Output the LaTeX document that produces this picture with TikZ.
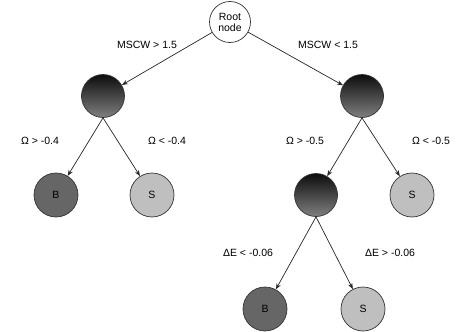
\documentclass[tikz,border=0pt]{standalone}
\usepackage{fontspec}
\setmainfont{Liberation Sans}
\usetikzlibrary{arrows.meta}
\begin{document}
\begin{tikzpicture}[x=1pt,y=-1pt,
  inner/.style={circle,draw=black!80,line width=0.7pt,minimum size=43pt,inner sep=0pt,top color=black!95,bottom color=black!50},
  leafB/.style={circle,draw=black!80,line width=0.7pt,minimum size=44pt,inner sep=0pt,fill=black!60,font=\fontsize{10.5}{12}\selectfont},
  leafS/.style={circle,draw=black!80,line width=0.7pt,minimum size=44pt,inner sep=0pt,fill=black!25,font=\fontsize{10.5}{12}\selectfont},
  rootnode/.style={circle,draw=black!80,line width=0.7pt,minimum size=41pt,inner sep=0pt,fill=white,align=center,font=\fontsize{10.5}{11}\selectfont},
  edge/.style={-{Stealth[length=6pt,width=4.5pt]},line width=0.7pt,black!85},
  lab/.style={font=\fontsize{10.5}{12}\selectfont}]
\useasboundingbox (0,0) rectangle (458,332);
\node[rootnode] (root) at (230,22) {Root\\node};
\node[inner] (L) at (103,96) {};
\node[inner] (R) at (362,96) {};
\node[leafB] (LB) at (56,195) {B};
\node[leafS] (LS) at (152,195) {S};
\node[inner] (RM) at (316,195) {};
\node[leafS] (RS) at (412,195) {S};
\node[leafB] (BB) at (265,309) {B};
\node[leafS] (BS) at (363,309) {S};
\draw[edge] (root) -- (L);
\draw[edge] (root) -- (R);
\draw[edge] (L.south) -- (LB);
\draw[edge] (L.south) -- (LS);
\draw[edge] (R.south) -- (RM);
\draw[edge] (R.south) -- (RS);
\draw[edge] (RM.south) -- (BB);
\draw[edge] (RM.south) -- (BS);
\node[lab] (l1) at (147,45) {MSCW > 1.5};
\node[lab] (l2) at (328,45) {MSCW < 1.5};
\node[lab] (l3) at (40,141) {Ω > -0.4};
\node[lab] (l4) at (167,141) {Ω < -0.4};
\node[lab] (l5) at (305,141) {Ω > -0.5};
\node[lab] (l6) at (431,141) {Ω < -0.5};
\node[lab] (l7) at (248,253) {ΔE < -0.06};
\node[lab] (l8) at (390,253) {ΔE > -0.06};
\end{tikzpicture}
\end{document}
